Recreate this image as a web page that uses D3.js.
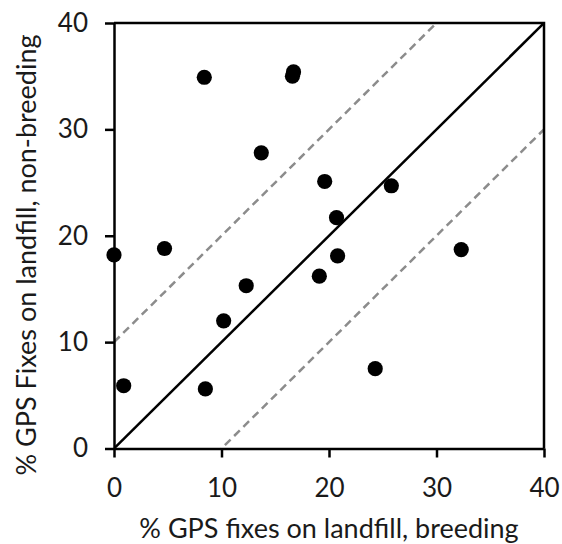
<!DOCTYPE html>
<html>
<head>
<meta charset="utf-8">
<script src="https://cdn.jsdelivr.net/npm/d3@7"></script>
<style>
  html, body { margin: 0; padding: 0; background: #fff; }
  svg { display: block; }
  text { font-family: Lato, "Open Sans", sans-serif; fill: #1a1a1a; }
</style>
</head>
<body>
<svg id="chart" width="562" height="544"></svg>
<script>
// % of GPS fixes on landfill per bird: breeding season vs non-breeding season
const breeding    = [0.0, 4.7, 0.9, 8.5, 10.2, 12.3, 8.4, 13.7, 16.6, 16.7, 19.6, 25.8, 20.7, 20.8, 19.1, 32.3, 24.3];
const nonBreeding = [18.2, 18.8, 5.9, 5.6, 12.0, 15.3, 34.9, 27.8, 35.0, 35.4, 25.1, 24.7, 21.7, 18.1, 16.2, 18.7, 7.5];
const tickValues  = [0, 10, 20, 30, 40];
// reference lines: y = x and y = x ± 10
const refOffsets  = [-10, 10];

const FONT = 'Lato, "Open Sans", sans-serif';
const svg = d3.select("#chart");
const x = d3.scaleLinear().domain([0, 40]).range([114, 544]);
const y = d3.scaleLinear().domain([0, 40]).range([448.5, 23]);

svg.append("defs").append("clipPath").attr("id", "plot-clip")
  .append("rect")
  .attr("x", x(0)).attr("y", y(40))
  .attr("width", x(40) - x(0)).attr("height", y(0) - y(40));

// dashed ±10 lines
const plot = svg.append("g").attr("clip-path", "url(#plot-clip)");
refOffsets.forEach(off => {
  plot.append("line")
    .attr("x1", x(0)).attr("y1", y(0 + off))
    .attr("x2", x(40)).attr("y2", y(40 + off))
    .attr("stroke", "#8c8c8c")
    .attr("stroke-width", 2.5)
    .attr("stroke-dasharray", "8,5");
});

// 1:1 line
plot.append("line")
  .attr("x1", x(0)).attr("y1", y(0))
  .attr("x2", x(40)).attr("y2", y(40))
  .attr("stroke", "#000")
  .attr("stroke-width", 2.5);

// frame (top and right edges)
svg.append("path")
  .attr("d", `M${x(0)},${y(40)}H${x(40)}V${y(0)}`)
  .attr("fill", "none").attr("stroke", "#000").attr("stroke-width", 2.5);

// axes
const xAxis = svg.append("g")
  .attr("transform", `translate(0,${y(0)})`)
  .call(d3.axisBottom(x).tickValues(tickValues).tickSize(9).tickPadding(21).tickSizeOuter(0));
const yAxis = svg.append("g")
  .attr("transform", `translate(${x(0)},0)`)
  .call(d3.axisLeft(y).tickValues(tickValues).tickSize(9).tickPadding(17).tickSizeOuter(0));

[xAxis, yAxis].forEach(g => {
  g.attr("font-family", null).attr("font-size", null);
  g.select(".domain").attr("stroke", "#000").attr("stroke-width", 2.5);
  g.selectAll(".tick line").attr("stroke", "#000").attr("stroke-width", 2.5);
  g.selectAll(".tick text")
    .style("font-family", FONT)
    .style("font-size", "26px")
    .attr("fill", "#1a1a1a");
});

// points
svg.append("g").selectAll("circle")
  .data(breeding.map((b, i) => [b, nonBreeding[i]]))
  .join("circle")
  .attr("cx", d => x(d[0]))
  .attr("cy", d => y(d[1]))
  .attr("r", 7.6)
  .attr("fill", "#000");

// axis titles
svg.append("text")
  .attr("x", 329).attr("y", 538)
  .attr("text-anchor", "middle")
  .style("font-family", FONT)
  .style("font-size", "27px")
  .text("% GPS fixes on landfill, breeding");

svg.append("text")
  .attr("transform", `translate(36,255) rotate(-90)`)
  .attr("text-anchor", "middle")
  .style("font-family", FONT)
  .style("font-size", "27px")
  .text("% GPS Fixes on landfill, non-breeding");
</script>
</body>
</html>
